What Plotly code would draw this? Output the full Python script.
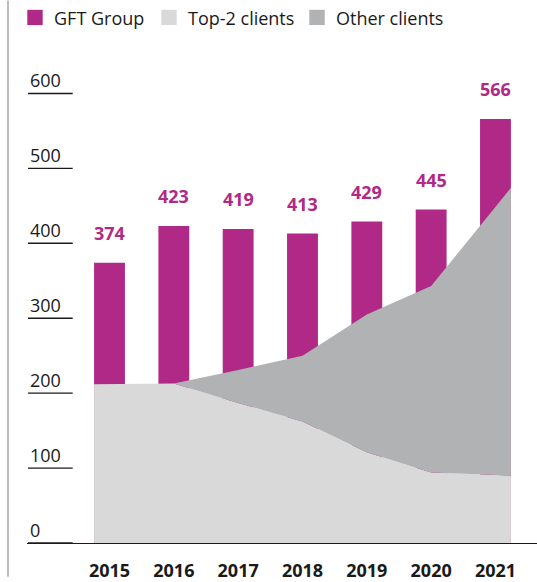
import plotly.graph_objects as go

# ---------------- data ----------------
years = ["2015", "2016", "2017", "2018", "2019", "2020", "2021"]
gft_group = [374, 423, 419, 413, 429, 445, 566]
top2_clients = [212, 213, 187, 162, 121, 94, 90]
other_clients = [0, 0, 44, 88, 184, 249, 384]
series_names = ["GFT Group", "Top-2 clients", "Other clients"]
y_ticks = [0, 100, 200, 300, 400, 500, 600]

# ---------------- style ----------------
PURPLE = "#B02987"
LIGHT = "#D9D9D9"
DARK = "#B1B2B4"
TEXT = "#1A1A1A"
FONT = "Open Sans"
W, H = 537, 582
ML, MR, MT, MB = 27, 0, 60, 34
PW, PH = W - ML - MR, H - MT - MB
BAR_W = 0.48
PX_PER_CAT = 64.33
X_MIN = -82.5 / PX_PER_CAT
X_MAX = X_MIN + PW / PX_PER_CAT
Y_MAX = PH / 0.757


def px_x(px):
    return (px - ML) / PW


def px_y(py):
    return (H - MB - py) / PH


idx = list(range(len(years)))
area_x = [float(i) for i in idx]
area_x[0] -= BAR_W / 2
area_x[-1] += BAR_W / 2

fig = go.Figure()
fig.add_trace(go.Bar(x=idx, y=gft_group, width=BAR_W, marker_color=PURPLE,
                     marker_line_width=0, name=series_names[0], showlegend=False,
                     hoverinfo="skip"))
fig.add_trace(go.Scatter(x=area_x, y=top2_clients, stackgroup="one", mode="none",
                         fillcolor=LIGHT, name=series_names[1], showlegend=False,
                         hoverinfo="skip"))
fig.add_trace(go.Scatter(x=area_x, y=other_clients, stackgroup="one", mode="none",
                         fillcolor=DARK, name=series_names[2], showlegend=False,
                         hoverinfo="skip"))

annotations = []
shapes = []

# data labels
for i, v in zip(idx, gft_group):
    annotations.append(dict(x=i, y=v, xref="x", yref="y", text=str(v), showarrow=False,
                            yanchor="bottom", xanchor="center", yshift=16,
                            font=dict(family=FONT, size=18, color=PURPLE, weight=700)))

# y tick labels + short tick lines
for v in y_ticks:
    annotations.append(dict(x=px_x(28), y=v, xref="paper", yref="y", text=str(v),
                            showarrow=False, xanchor="left", yanchor="bottom", yshift=-1,
                            font=dict(family=FONT, size=18, color=TEXT)))
    shapes.append(dict(type="line", xref="paper", yref="y", x0=px_x(28), x1=px_x(72.7),
                       y0=v, y1=v, line=dict(color=TEXT, width=1.4)))

# left frame line
shapes.append(dict(type="line", xref="paper", yref="paper", x0=px_x(8), x1=px_x(8),
                   y0=px_y(H), y1=px_y(0), line=dict(color="#A6A6A6", width=1.5)))

# legend
leg_colors = [PURPLE, LIGHT, DARK]
leg_sq_x = [27.3, 161.3, 309.3]
for name, col, sx in zip(series_names, leg_colors, leg_sq_x):
    shapes.append(dict(type="rect", xref="paper", yref="paper", x0=px_x(sx), x1=px_x(sx + 15.4),
                       y0=px_y(24.7), y1=px_y(9.3), fillcolor=col, line=dict(width=0)))
    annotations.append(dict(x=px_x(sx + 24.4), y=px_y(17.3), xref="paper", yref="paper",
                            text=name, showarrow=False, xanchor="left", yanchor="middle",
                            font=dict(family=FONT, size=18, color=TEXT)))

fig.update_layout(
    width=W, height=H,
    margin=dict(l=ML, r=MR, t=MT, b=MB, pad=0),
    paper_bgcolor="white", plot_bgcolor="white",
    showlegend=False, hovermode=False,
    annotations=annotations, shapes=shapes,
    xaxis=dict(range=[X_MIN, X_MAX], tickvals=idx, ticktext=years, showgrid=False,
               zeroline=False, showline=True, linecolor=TEXT, linewidth=1.4,
               ticks="", ticklabelstandoff=11,
               tickfont=dict(family=FONT, size=18, color=TEXT, weight=700)),
    yaxis=dict(range=[0, Y_MAX], showticklabels=False, showgrid=False, zeroline=False,
               showline=False, ticks=""),
)

fig.write_html("out.html", config={"displayModeBar": False},
               post_script="document.body.style.margin='0';document.body.style.overflow='hidden';")
